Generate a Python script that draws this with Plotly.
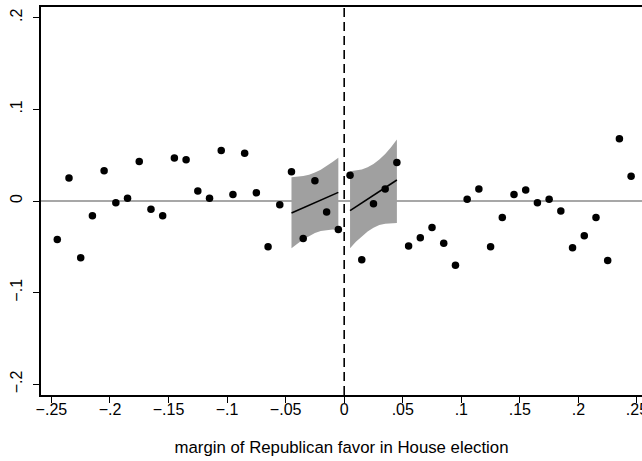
import plotly.graph_objects as go

# Bin midpoints (margin of Republican favor) and bin means
bin_x = [round(-0.245 + 0.01 * i, 3) for i in range(50)]
bin_y = [
    -0.042, 0.025, -0.062, -0.016, 0.033, -0.002, 0.003, 0.043, -0.009, -0.016,
    0.047, 0.045, 0.011, 0.003, 0.055, 0.007, 0.052, 0.009, -0.050, -0.004,
    0.032, -0.041, 0.022, -0.012, -0.031,
    0.028, -0.064, -0.003, 0.013, 0.042, -0.049, -0.040, -0.029, -0.046, -0.070,
    0.002, 0.013, -0.050, -0.018, 0.007, 0.012, -0.002, 0.002, -0.011, -0.051,
    -0.038, -0.018, -0.065, 0.068, 0.027,
]

# Local linear fits with confidence bands
left_x = [-0.045, -0.04, -0.035, -0.03, -0.025, -0.02, -0.015, -0.01, -0.005]
left_fit = [-0.0131, -0.0103, -0.0075, -0.0047, -0.0019, 0.0009, 0.0037, 0.0065, 0.0094]
left_hi = [0.0260, 0.0263, 0.0272, 0.0287, 0.0310, 0.0342, 0.0380, 0.0425, 0.0472]
left_lo = [-0.0515, -0.0465, -0.0420, -0.0382, -0.0350, -0.0328, -0.0316, -0.0312, -0.0315]

right_x = [0.005, 0.01, 0.015, 0.02, 0.025, 0.03, 0.035, 0.04, 0.045]
right_fit = [-0.0105, -0.0063, -0.0022, 0.0020, 0.0062, 0.0104, 0.0146, 0.0187, 0.0229]
right_hi = [0.0325, 0.0330, 0.0343, 0.0368, 0.0404, 0.0452, 0.0512, 0.0585, 0.0672]
right_lo = [-0.0515, -0.0445, -0.0385, -0.0333, -0.0292, -0.0263, -0.0247, -0.0240, -0.0240]

x_ticks = [-0.25, -0.2, -0.15, -0.1, -0.05, 0, 0.05, 0.1, 0.15, 0.2, 0.25]
x_labels = ["\u2212.25", "\u2212.2", "\u2212.15", "\u2212.1", "\u2212.05", "0", ".05", ".1", ".15", ".2", ".25"]
y_ticks = [-0.2, -0.1, 0, 0.1, 0.2]
y_labels = ["\u2212.2", "\u2212.1", "0", ".1", ".2"]
x_title = "margin of Republican favor in House election"

BAND = "#a0a0a0"
FONT = "Liberation Sans, Arial, sans-serif"

fig = go.Figure()

for xs, hi, lo in [(left_x, left_hi, left_lo), (right_x, right_hi, right_lo)]:
    fig.add_trace(go.Scatter(
        x=xs + xs[::-1], y=hi + lo[::-1], fill="toself", fillcolor=BAND,
        line=dict(width=0), mode="lines", hoverinfo="skip", showlegend=False))

for xs, fit in [(left_x, left_fit), (right_x, right_fit)]:
    fig.add_trace(go.Scatter(x=xs, y=fit, mode="lines",
                             line=dict(color="black", width=1.6), showlegend=False))

fig.add_trace(go.Scatter(x=bin_x, y=bin_y, mode="markers",
                         marker=dict(color="black", size=7.5, line=dict(width=0)),
                         showlegend=False))

fig.add_shape(type="line", xref="paper", yref="y", x0=0, x1=1, y0=0, y1=0,
              line=dict(color="#8a8a8a", width=1.5), layer="below")
fig.add_shape(type="line", xref="x", yref="paper", x0=0, x1=0, y0=0, y1=1,
              line=dict(color="black", width=1.6, dash="9px,5px"), layer="above")

fig.update_layout(
    width=642, height=461,
    margin=dict(l=41, r=0, t=7, b=66),
    paper_bgcolor="white", plot_bgcolor="white",
    font=dict(family=FONT, size=16, color="black"),
    showlegend=False,
)
fig.update_xaxes(
    range=[-0.2589, 0.2543], tickvals=x_ticks, ticktext=x_labels,
    ticks="outside", ticklen=6, tickwidth=1.2, tickcolor="black",
    showline=True, linecolor="black", linewidth=1.5, mirror=True,
    showgrid=False, zeroline=False, automargin=False,
    ticklabeloverflow="allow", ticklabelstandoff=-7,
    tickfont=dict(size=16),
    title=dict(text=x_title, font=dict(size=16.8), standoff=24),
)
fig.update_yaxes(
    range=[-0.2116, 0.2116], tickvals=y_ticks, ticktext=y_labels,
    ticks="outside", ticklen=6, tickwidth=1.2, tickcolor="black", tickangle=-90,
    showline=True, linecolor="black", linewidth=1.5, mirror=False,
    ticklabelstandoff=5, automargin=False,
    showgrid=False, zeroline=False,
    tickfont=dict(size=16),
)

fig.write_html("out.html")
